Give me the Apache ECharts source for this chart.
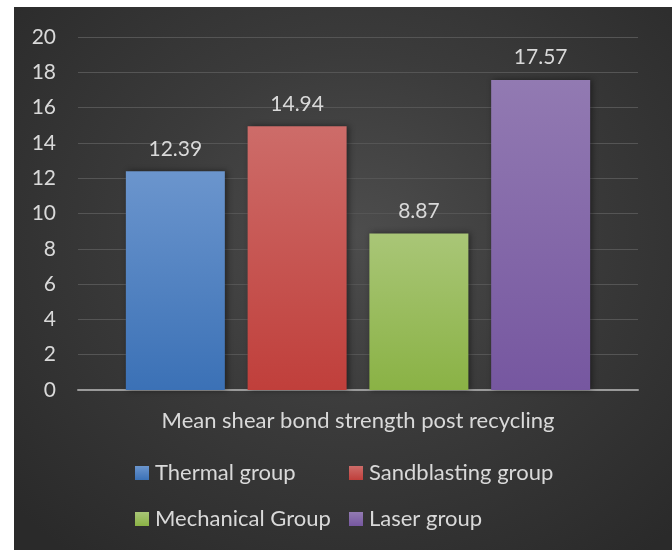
<!DOCTYPE html>
<html><head><meta charset="utf-8">
<script src="https://cdn.jsdelivr.net/npm/echarts@6/dist/echarts.min.js"></script>
<style>
html,body{margin:0;padding:0;background:#fff;width:672px;height:550px;overflow:hidden}
#c{position:absolute;left:14px;top:7px;width:658px;height:543px;
background:radial-gradient(ellipse 70% 75% at 52% 42%, #4d4d4d 0%, #3b3b3b 45%, #2a2a2a 100%);}
</style></head>
<body><div id="c"></div>
<script>
var categories = ["Mean shear bond strength post recycling"];
var seriesNames = ["Thermal group", "Sandblasting group", "Mechanical Group", "Laser group"];
var values = [12.39, 14.94, 8.87, 17.57];
var yTicks = [0, 2, 4, 6, 8, 10, 12, 14, 16, 18, 20];
var colorsTop = ["#6b95cd", "#cd6c69", "#a9c677", "#927ab2"];
var colorsBottom = ["#3b71b6", "#c03f3b", "#8ab245", "#7657a0"];

var FONT = "Lato, 'Open Sans', sans-serif";
var chart = echarts.init(document.getElementById('c'), null, {renderer:'canvas'});

function grad(i){
  return new echarts.graphic.LinearGradient(0,0,0,1,[{offset:0,color:colorsTop[i]},{offset:1,color:colorsBottom[i]}]);
}
var series = seriesNames.map(function(n,i){
  return {
    name:n, type:'bar', data:[values[i]],
    barWidth:99, barGap:'23%',
    itemStyle:{color:grad(i), shadowColor:'rgba(0,0,0,0.45)', shadowBlur:6, shadowOffsetX:2, shadowOffsetY:0},
    label:{show:true, position:'top', distance:12, color:'#d9d9d9', fontSize:21, fontFamily:FONT,
      formatter:function(p){return p.value.toFixed(2);}}
  };
});
var legendPos = [[121,455],[335,455],[121,501],[335,501]];
var legends = seriesNames.map(function(n,i){
  return {data:[{name:n, itemStyle:{color:grad(i)}}], left:legendPos[i][0], top:legendPos[i][1],
    padding:0, icon:'rect', itemWidth:14, itemHeight:14, itemGap:0, selectedMode:false,
    textStyle:{color:'#d9d9d9', fontSize:22, fontFamily:FONT, padding:[0,0,0,1]}};
});
chart.setOption({
  animation:false,
  backgroundColor:'transparent',
  grid:{left:64, right:34, top:30, bottom:160, containLabel:false},
  legend:legends,
  xAxis:{type:'category', data:categories,
    axisLine:{lineStyle:{color:'#9a9a9a', width:2}}, axisTick:{show:false},
    axisLabel:{color:'#d9d9d9', fontSize:22, fontFamily:FONT, margin:20}},
  yAxis:{type:'value', min:yTicks[0], max:yTicks[yTicks.length-1], interval:2,
    axisLine:{show:false}, axisTick:{show:false},
    axisLabel:{color:'#d9d9d9', fontSize:21, fontFamily:FONT, margin:22},
    splitLine:{lineStyle:{color:'#555555', width:1}}},
  series:series
});
</script></body></html>
